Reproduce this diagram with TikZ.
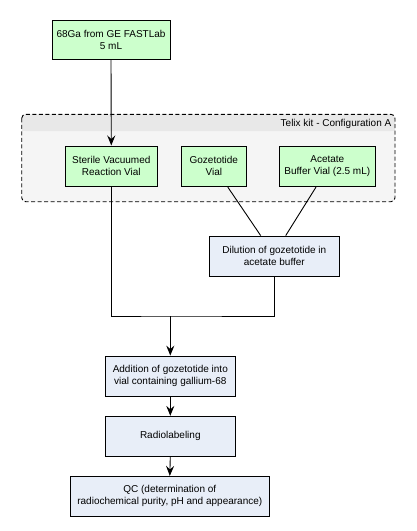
\documentclass[tikz,border=0pt]{standalone}
\usepackage{fontspec}
\setmainfont{Liberation Sans}
\usetikzlibrary{arrows.meta,calc}
\definecolor{gfill}{HTML}{CCFFCC}
\definecolor{bfill}{HTML}{E8EEF8}
\definecolor{kitfill}{HTML}{F5F5F5}
\definecolor{kithead}{HTML}{E8E8E8}
\begin{document}
\begin{tikzpicture}[x=1pt,y=-1pt,
  every node/.style={font=\fontsize{10}{12.2}\selectfont, align=center, inner sep=0pt},
  gbox/.style={draw=black, fill=gfill, line width=0.9pt},
  bbox/.style={draw=black, fill=bfill, line width=0.9pt},
  conn/.style={draw=black, line width=0.9pt},
  arr/.style={conn, -{Stealth[length=10pt,width=8pt,inset=3.5pt]}}]
\useasboundingbox (0,0) rectangle (417,531);
\fill[white] (0,0) rectangle (417,531);
% kit container
\fill[kitfill, rounded corners=4pt] (21.7,114.3) rectangle (395,201.7);
\fill[kithead, rounded corners=4pt] (21.7,114.3) rectangle (395,131);
\fill[kithead] (21.7,122) rectangle (395,131);
\draw[dashed, line width=0.9pt, rounded corners=4pt, dash pattern=on 4pt off 2.5pt] (21.7,114.3) rectangle (395,201.7);
\node[anchor=east] (kitlabel) at (391.5,124) {Telix kit - Configuration A};
% nodes
\node[gbox, minimum width=118pt, minimum height=39pt] (ga) at (111,39.6) {68Ga from GE FASTLab\\5 mL};
\node[gbox, minimum width=92pt, minimum height=40.7pt] (svr) at (111.3,166.3) {Sterile Vacuumed\\Reaction Vial};
\node[gbox, minimum width=65.7pt, minimum height=40.7pt] (goz) at (213.8,166.3) {Gozetotide\\Vial};
\node[gbox, minimum width=96.7pt, minimum height=40.7pt] (ace) at (327.3,166.3) {Acetate\\Buffer Vial (2.5 mL)};
\node[bbox, minimum width=130pt, minimum height=40.3pt] (dil) at (274.3,256.2) {Dilution of gozetotide in\\acetate buffer};
\node[bbox, minimum width=130pt, minimum height=40.3pt] (add) at (170.3,376.2) {Addition of gozetotide into\\vial containing gallium-68};
\node[bbox, minimum width=130pt, minimum height=40pt] (rad) at (170.3,436.3) {Radiolabeling};
\node[bbox, minimum width=199pt, minimum height=39.7pt] (qc) at (169.8,496.2) {QC (determination of\\radiochemical purity, pH and appearance)};
\coordinate (jn) at (170.3,316);
% connectors
\draw[arr] (ga.south) -- (svr.north);
\draw[conn] ([xshift=14pt]goz.south) -- ([xshift=-13.6pt]dil.north);
\draw[conn] ([xshift=-11.3pt]ace.south) -- ([xshift=11.4pt]dil.north);
\draw[conn] (svr.south) |- (jn) -| (dil.south);
\draw[arr] (jn) -- (add.north);
\draw[arr] (add.south) -- (rad.north);
\draw[arr] (rad.south) -- (qc.north);
\end{tikzpicture}
\end{document}
